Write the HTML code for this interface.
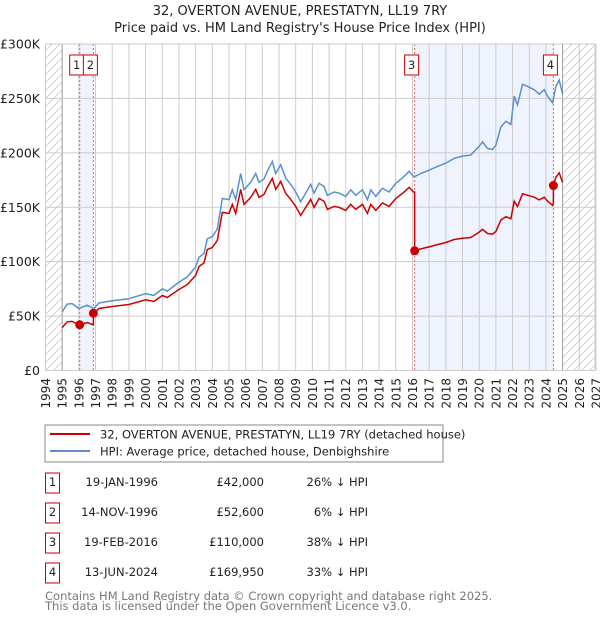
<!DOCTYPE html>
<html><head><meta charset="utf-8"><style>
body{margin:0;background:#fff;font-family:"Liberation Sans","DejaVu Sans",sans-serif}
svg text{font-family:"DejaVu Sans","Liberation Sans",sans-serif}
</style></head><body>
<svg id="c" width="600" height="620" xmlns="http://www.w3.org/2000/svg">
<defs><pattern id="hatch" patternUnits="userSpaceOnUse" width="8" height="8" patternTransform="rotate(0)"><path d="M0,8 L8,0" stroke="#ccc" stroke-width="0.8"/></pattern></defs>
<text x="300" y="15" text-anchor="middle" font-size="13" fill="#222">32, OVERTON AVENUE, PRESTATYN, LL19 7RY</text>
<text x="300" y="32" text-anchor="middle" font-size="13" fill="#222">Price paid vs. HM Land Registry's House Price Index (HPI)</text>
<g id="plot"></g>
<rect x="45" y="425" width="398" height="37" fill="#fff" stroke="#888"/>
<line x1="50" y1="434" x2="90" y2="434" stroke="#cc0000" stroke-width="2"/>
<text x="100" y="438.5" font-size="11.5" fill="#222">32, OVERTON AVENUE, PRESTATYN, LL19 7RY (detached house)</text>
<line x1="50" y1="451" x2="90" y2="451" stroke="#5b8fd0" stroke-width="2"/>
<text x="100" y="455.5" font-size="11.5" fill="#222">HPI: Average price, detached house, Denbighshire</text>
<g id="tbl" font-size="11.5" fill="#222"></g>
<text x="45" y="600" font-size="11.5" fill="#777">Contains HM Land Registry data © Crown copyright and database right 2025.</text>
<text x="45" y="610" font-size="11.5" fill="#777">This data is licensed under the Open Government Licence v3.0.</text>
</svg>
<script>
const hpiDates=[1995.0,1995.3,1995.6,1996.0,1996.5,1996.9,1997.2,1998,1999,2000,2000.5,2001,2001.3,2002,2002.5,2003,2003.2,2003.5,2003.7,2004,2004.3,2004.6,2005,2005.2,2005.4,2005.7,2005.9,2006.3,2006.6,2006.8,2007.1,2007.3,2007.6,2007.8,2008.1,2008.4,2008.7,2009.0,2009.3,2009.6,2009.9,2010.1,2010.4,2010.7,2010.9,2011.3,2011.6,2012.0,2012.3,2012.6,2013.0,2013.3,2013.5,2013.8,2014.2,2014.6,2015.0,2015.4,2015.8,2016.1,2016.5,2017.0,2017.5,2018.0,2018.5,2019.0,2019.5,2020.0,2020.2,2020.5,2020.8,2021.0,2021.3,2021.6,2021.9,2022.1,2022.3,2022.6,2022.9,2023.3,2023.6,2023.9,2024.1,2024.4,2024.6,2024.8,2025.0];
const hpiValues=[53.8,61,61.5,57,60,57,62,64,66,70.7,69,75,73,81,86,95,104,107.6,121,123,130,158,157,166,157,181,166,173,181,173,176,183,192,181,189,177,171,164,155,163,171,163,172,169,161,164,163,160,166,161,166,157,166,160,167.5,164,172,177,183,178,181,184,187.5,190.6,195,197,198,206,210,204,203,207,224,229,226,252,244,263,261,258,254,258,252,246,261,267,254];
const saleDates=[1996.05,1996.87,2016.13,2024.45];
const salePrices=[42000,52600,110000,169950];
const saleLabels=["1","2","3","4"];
const saleDateText=["19-JAN-1996","14-NOV-1996","19-FEB-2016","13-JUN-2024"];
const salePriceText=["£42,000","£52,600","£110,000","£169,950"];
const saleDiffText=["26% ↓ HPI","6% ↓ HPI","38% ↓ HPI","33% ↓ HPI"];
const yTicks=[0,50000,100000,150000,200000,250000,300000];
const yTickLabels=["£0","£50K","£100K","£150K","£200K","£250K","£300K"];

const NS="http://www.w3.org/2000/svg";
const X0=45.5,PX=16.68,XR=595,YB=370.5,YT=44;
const xs=t=>X0+(t-1994)*PX;
const ys=v=>YB-v*(YB-YT)/300000;
const g=document.getElementById('plot');
function mk(tag,at,parent){const e=document.createElementNS(NS,tag);for(const k in at)e.setAttribute(k,at[k]);(parent||g).appendChild(e);return e;}
function hpiAt(t){for(let i=0;i<hpiDates.length-1;i++){if(t<=hpiDates[i+1]){const f=(t-hpiDates[i])/(hpiDates[i+1]-hpiDates[i]);return (hpiValues[i]+f*(hpiValues[i+1]-hpiValues[i]))*1000;}}return hpiValues[hpiValues.length-1]*1000;}

let e;
e=mk('rect',{x:xs(1994),y:YT,width:xs(1995)-xs(1994),height:YB-YT,fill:'url(#hatch)'});


e=mk('rect',{x:xs(2025),y:YT,width:XR-xs(2025),height:YB-YT,fill:'url(#hatch)'});


e=mk('rect',{x:xs(saleDates[0]),y:YT,width:xs(saleDates[1])-xs(saleDates[0]),height:YB-YT,fill:'#eef3fd'});


e=mk('rect',{x:xs(saleDates[2]),y:YT,width:xs(saleDates[3])-xs(saleDates[2]),height:YB-YT,fill:'#eef3fd'});


for(let y=1994;y<=2027;y++){
  const x=xs(y);
  if(x<=XR+1){e=mk('line',{x1:x,y1:YT,x2:x,y2:YB,stroke:(y==1995||y==2025)?'#999':'#ccc','stroke-width':1});
  
  }
  e=mk('text',{x:0,y:0,transform:`translate(${x+4.5},378) rotate(-90)`,'text-anchor':'end','font-size':12,fill:'#222'});
  e.textContent=y;
  
  
}
yTicks.forEach((v,i)=>{
  e=mk('line',{x1:X0,y1:ys(v),x2:XR,y2:ys(v),stroke:'#ccc','stroke-width':1});
  
  
  e=mk('text',{x:40,y:ys(v)+4.5,'text-anchor':'end','font-size':12.5,fill:'#222'});
  e.textContent=yTickLabels[i];
  
  
});
saleDates.forEach((d,i)=>{
  e=mk('line',{x1:xs(d),y1:YT,x2:xs(d),y2:YB,stroke:'#f06060','stroke-width':1,'stroke-dasharray':'2,2'});
  
  
});
// HPI line
let pts=hpiDates.map((d,i)=>xs(d).toFixed(1)+','+ys(hpiValues[i]*1000).toFixed(1)).join(' ');
e=mk('polyline',{points:pts,fill:'none',stroke:'#5b8fd0','stroke-width':1.5});


// property line: HPI scaled to each sale
const ratios=saleDates.map((d,i)=>salePrices[i]/hpiAt(d));
let rp=[];
function seg(t){let k=0;for(let i=0;i<saleDates.length;i++)if(t>=saleDates[i])k=i;return k;}
for(let i=0;i<hpiDates.length;i++){
  const t=hpiDates[i];
  for(let s=0;s<saleDates.length;s++){
    if(saleDates[s]>(i?hpiDates[i-1]:0)&&saleDates[s]<=t){
      const sp=s>0?s-1:0;
      rp.push([saleDates[s],hpiAt(saleDates[s])*ratios[sp]]);
      rp.push([saleDates[s],salePrices[s]]);
    }
  }
  rp.push([t,hpiValues[i]*1000*ratios[seg(t)]]);
}
e=mk('polyline',{points:rp.map(p=>xs(p[0]).toFixed(1)+','+ys(p[1]).toFixed(1)).join(' '),fill:'none',stroke:'#cc0000','stroke-width':1.5});


saleDates.forEach((d,i)=>{
  e=mk('circle',{cx:xs(d),cy:ys(salePrices[i]),r:4.5,fill:'#cc0000'});
  
  
  e=mk('rect',{x:xs(d)-10,y:55,width:14,height:20,fill:'#fff',stroke:'#cc0000','stroke-width':1});
  
  
  e=mk('text',{x:xs(d)-3,y:69,'text-anchor':'middle','font-size':11.5,fill:'#222'});
  e.textContent=saleLabels[i];
  
  
});
e=mk('rect',{x:X0,y:YT,width:XR-X0,height:YB-YT,fill:'none',stroke:'#ccc'});


// table
const tb=document.getElementById('tbl');
saleLabels.forEach((l,i)=>{
  const cy=483+i*30;
  e=mk('rect',{x:45.5,y:cy-10,width:14,height:20,fill:'#fff',stroke:'#cc0000'},tb);
  
  
  e=mk('text',{x:52.5,y:cy+3,'text-anchor':'middle'},tb);e.textContent=l;
  
  
  e=mk('text',{x:158,y:cy+3,'text-anchor':'end'},tb);e.textContent=saleDateText[i];
  
  
  e=mk('text',{x:264,y:cy+3,'text-anchor':'end'},tb);e.textContent=salePriceText[i];
  
  
  e=mk('text',{x:368,y:cy+3,'text-anchor':'end'},tb);e.textContent=saleDiffText[i];
  
  
});
</script>
</body></html>
